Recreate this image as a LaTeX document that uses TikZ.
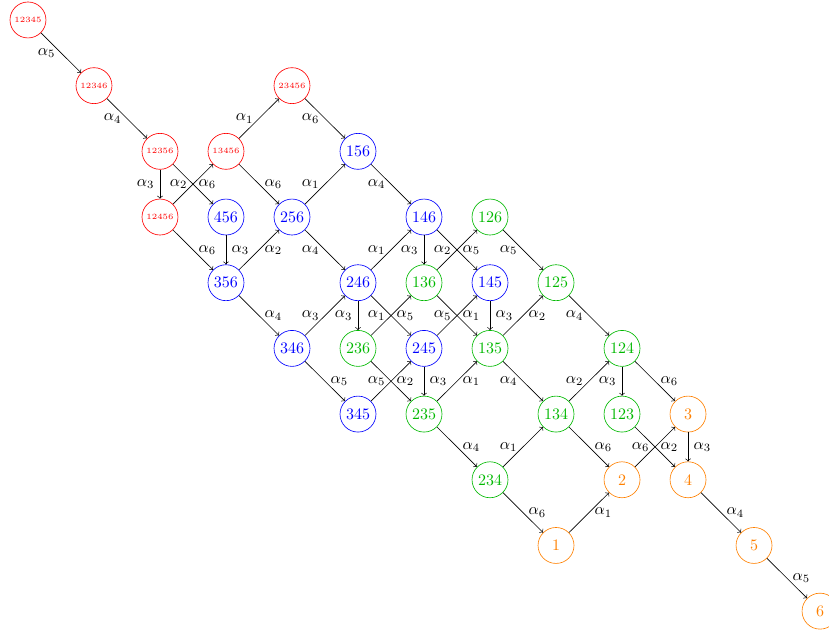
\documentclass[tikz,border=0pt]{standalone}
\definecolor{setgreen}{rgb}{0,0.72,0}

\begin{document}
\begin{tikzpicture}[x=1.45cm,y=-1.443cm,
  set/.style={circle,draw,minimum size=0.79cm,inner sep=0pt},
  redset/.style={set,red,text=red,font=\tiny},
  blueset/.style={set,blue,text=blue},
  greenset/.style={set,setgreen,text=setgreen},
  orangeset/.style={set,orange,text=orange}]

\useasboundingbox (-0.424,-0.304) rectangle (12.136,9.376);

\node [redset](n12345) at (0,0) {12345};
\node [redset](n12346) at (1,1) {12346};
\node [redset](n12356) at (2,2) {12356};
\node [redset](n12456) at (2,3) {12456};
\node [redset](n13456) at (3,2) {13456};
\node [redset](n23456) at (4,1) {23456};

\node [blueset](n456) at (3,3) {456};
\node [blueset](n256) at (4,3) {256};
\node [blueset](n156) at (5,2) {156};
\node [blueset](n356) at (3,4) {356};
\node [blueset](n146) at (6,3) {146};
\node [blueset](n246) at (5,4) {246};
\node [blueset](n145) at (7,4) {145};
\node [blueset](n346) at (4,5) {346};
\node [blueset](n245) at (6,5) {245};
\node [blueset](n345) at (5,6) {345};

\node [greenset](n126) at (7,3) {126};
\node [greenset](n136) at (6,4) {136};
\node [greenset](n125) at (8,4) {125};
\node [greenset](n236) at (5,5) {236};
\node [greenset](n135) at (7,5) {135};
\node [greenset](n124) at (9,5) {124};
\node [greenset](n235) at (6,6) {235};
\node [greenset](n134) at (8,6) {134};
\node [greenset](n123) at (9,6) {123};
\node [greenset](n234) at (7,7) {234};

\node [orangeset](n3) at (10,6) {3};
\node [orangeset](n2) at (9,7) {2};
\node [orangeset](n4) at (10,7) {4};
\node [orangeset](n1) at (8,8) {1};
\node [orangeset](n5) at (11,8) {5};
\node [orangeset](n6) at (12,9) {6};

\draw [->] (n12345) -- node[left] {$\alpha_5$} (n12346);
\draw [->] (n12346) -- node[left] {$\alpha_4$} (n12356);
\draw [->] (n12356) -- node[left] {$\alpha_3$} (n12456);
\draw [->] (n12456) -- node[left] {$\alpha_2$} (n13456);
\draw [->] (n12356) -- node[right] {$\alpha_6$} (n456);
\draw [->] (n13456) -- node[left] {$\alpha_1$} (n23456);
\draw [->] (n23456) -- node[left] {$\alpha_6$} (n156);
\draw [->] (n13456) -- node[right] {$\alpha_6$} (n256);
\draw [->] (n12456) -- node[right] {$\alpha_6$} (n356);
\draw [->] (n456) -- node[right] {$\alpha_3$} (n356);
\draw [->] (n356) -- node[right] {$\alpha_2$} (n256);
\draw [->] (n256) -- node[left] {$\alpha_1$} (n156);

\draw [->] (n156) -- node[left] {$\alpha_4$} (n146);
\draw [->] (n256) -- node[left] {$\alpha_4$} (n246);
\draw [->] (n246) -- node[left] {$\alpha_1$} (n146);
\draw [->] (n146) -- node[left] {$\alpha_3$} (n136);
\draw [->] (n136) -- node[left] {$\alpha_2$} (n126);
\draw [->] (n146) -- node[right] {$\alpha_5$} (n145);
\draw [->] (n126) -- node[left] {$\alpha_5$} (n125);
\draw [->] (n356) -- node[right] {$\alpha_4$} (n346);
\draw [->] (n346) -- node[left] {$\alpha_3$} (n246);
\draw [->] (n246) -- node[left] {$\alpha_3$} (n236);
\draw [->] (n236) -- node[left] {$\alpha_1$} (n136);
\draw [->] (n246) -- node[right] {$\alpha_5$} (n245);
\draw [->] (n136) -- node[left] {$\alpha_5$} (n135);
\draw [->] (n245) -- node[right] {$\alpha_1$} (n145);
\draw [->] (n145) -- node[right] {$\alpha_3$} (n135);
\draw [->] (n135) -- node[right] {$\alpha_2$} (n125);
\draw [->] (n125) -- node[left] {$\alpha_4$} (n124);

\draw [->] (n346) -- node[right] {$\alpha_5$} (n345);
\draw [->] (n345) -- node[left] {$\alpha_5$} (n245);
\draw [->] (n236) -- node[right] {$\alpha_2$} (n235);
\draw [->] (n245) -- node[right] {$\alpha_3$} (n235);
\draw [->] (n235) -- node[right] {$\alpha_1$} (n135);
\draw [->] (n135) -- node[left] {$\alpha_4$} (n134);
\draw [->] (n134) -- node[left] {$\alpha_2$} (n124);
\draw [->] (n124) -- node[left] {$\alpha_3$} (n123);
\draw [->] (n124) -- node[right] {$\alpha_6$} (n3);
\draw [->] (n235) -- node[right] {$\alpha_4$} (n234);
\draw [->] (n234) -- node[left] {$\alpha_1$} (n134);
\draw [->] (n134) -- node[right] {$\alpha_6$} (n2);
\draw [->] (n123) -- node[left] {$\alpha_6$} (n4);
\draw [->] (n2) -- node[right] {$\alpha_2$} (n3);
\draw [->] (n3) -- node[right] {$\alpha_3$} (n4);

\draw [->] (n234) -- node[right] {$\alpha_6$} (n1);
\draw [->] (n1) -- node[right] {$\alpha_1$} (n2);
\draw [->] (n4) -- node[right] {$\alpha_4$} (n5);
\draw [->] (n5) -- node[right] {$\alpha_5$} (n6);
\end{tikzpicture}
\end{document}
